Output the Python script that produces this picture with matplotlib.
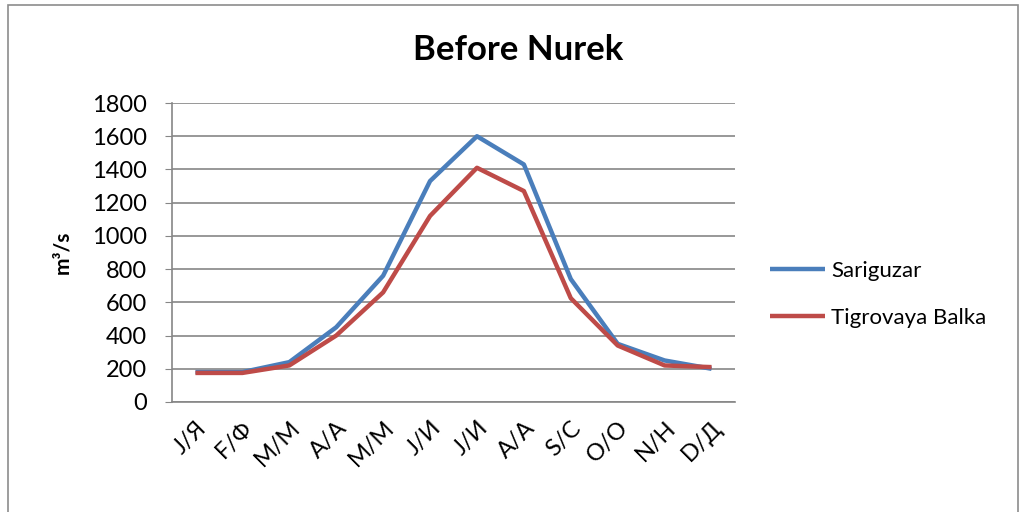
import matplotlib.pyplot as plt
from matplotlib.patches import Rectangle

# Monthly discharge before Nurek dam
meses = ['J/Я', 'F/Ф', 'M/M', 'A/A', 'M/M', 'J/И', 'J/И', 'A/A', 'S/C', 'O/O', 'N/H', 'D/Д']
sariguzar = [180, 180, 240, 450, 760, 1330, 1600, 1430, 740, 350, 250, 200]
tigrovaya = [175, 175, 220, 400, 660, 1120, 1410, 1270, 625, 340, 220, 210]

plt.rcParams['font.family'] = ['Lato', 'DejaVu Sans']

fig = plt.figure(figsize=(10.23, 5.12), dpi=100)
ax = fig.add_axes([172 / 1023, 1 - 402 / 512, 563 / 1023, 299 / 512])

# marco exterior del gráfico
fig.patches.append(Rectangle((8 / 1023, -0.05), 1010 / 1023, 1.04, transform=fig.transFigure,
                             fill=False, edgecolor='#8c8c8c', linewidth=1.2))

x = range(len(meses))
ax.plot(x, sariguzar, color='#4A7EBB', linewidth=3.2, label='Sariguzar', solid_capstyle='butt')
ax.plot(x, tigrovaya, color='#BE4B48', linewidth=3.2, label='Tigrovaya Balka', solid_capstyle='butt')

ax.set_xlim(-0.5, len(meses) - 0.5)
ax.set_ylim(0, 1800)
ax.set_yticks(range(0, 1801, 200))
ax.set_xticks(list(x))
ax.set_xticklabels(meses, rotation=45, ha='right', rotation_mode='anchor', fontsize=17)
ax.tick_params(axis='y', labelsize=17, length=5, color='#868686', pad=13)
ax.tick_params(axis='x', length=0, pad=11)

ax.grid(axis='y', color='#868686', linewidth=1.2)
ax.set_axisbelow(True)
for s in ['top', 'right']:
    ax.spines[s].set_visible(False)
for s in ['left', 'bottom']:
    ax.spines[s].set_color('#868686')
    ax.spines[s].set_linewidth(1.2)

ax.set_ylabel('m³/s', fontsize=15, fontweight='bold', labelpad=14)
fig.text(518 / 1023, 1 - 50 / 512, 'Before Nurek', fontsize=25, fontweight='bold',
         ha='center', va='center')

ax.legend(loc='center left', bbox_to_anchor=(1.062, 0.36), frameon=False, fontsize=16,
          borderpad=0, borderaxespad=0, handlelength=2.5, labelspacing=1.2, handletextpad=0.25)

plt.savefig('out.png', dpi=100)
